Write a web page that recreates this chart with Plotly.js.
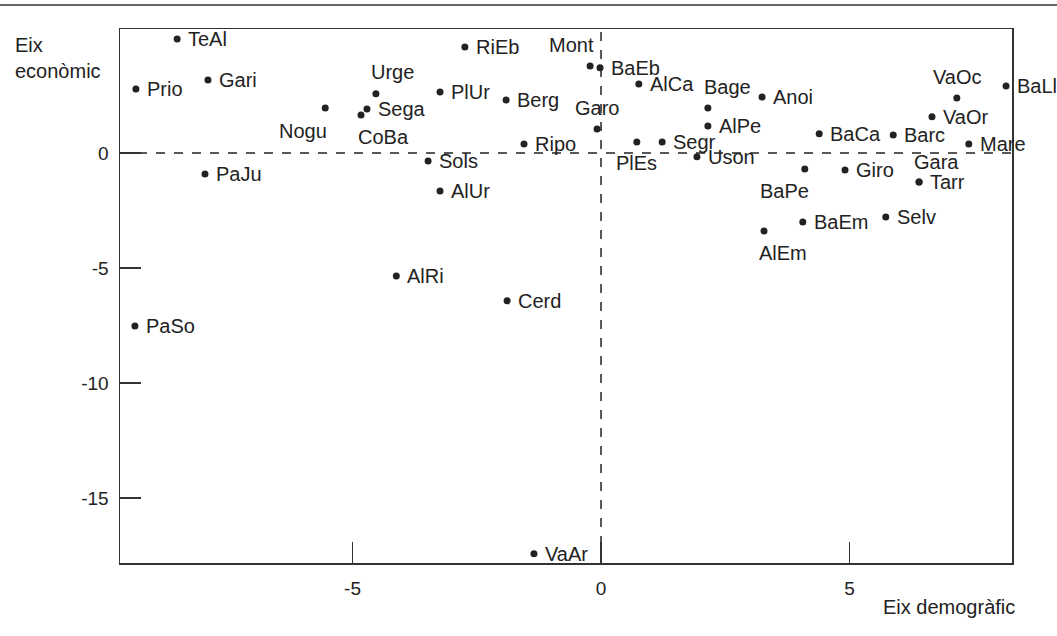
<!DOCTYPE html>
<html>
<head>
<meta charset="utf-8">
<script src="https://cdn.plot.ly/plotly-3.0.1.min.js"></script>
<style>html,body{margin:0;padding:0;background:#fff;}#chart{width:1057px;height:636px;}</style>
</head>
<body>
<div id="chart"></div>
<script>
// Comarques: eix demogràfic (x) i eix econòmic (y)
const names = ["TeAl","Prio","Gari","Nogu","PaJu","Urge","Sega","CoBa","RiEb","PlUr","Berg","Mont","BaEb","AlCa","Garo","Ripo","Sols","AlUr","PlEs","Segr","Uson","Bage","AlPe","Anoi","BaCa","Barc","VaOc","VaOr","BaLl","Mare","BaPe","Giro","Gara","Tarr","AlEm","BaEm","Selv","AlRi","Cerd","PaSo","VaAr"];
const demografic = [-8.53,-9.36,-7.91,-5.55,-7.97,-4.53,-4.71,-4.83,-2.74,-3.24,-1.91,-0.22,-0.02,0.76,-0.08,-1.55,-3.48,-3.24,0.72,1.23,1.93,2.15,2.15,3.24,4.39,5.88,7.16,6.66,8.15,7.40,4.10,4.91,6.40,6.40,3.28,4.06,5.73,-4.12,-1.89,-9.38,-1.35];
const economic = [4.96,2.78,3.17,1.96,-0.91,2.57,1.91,1.65,4.61,2.65,2.30,3.78,3.70,3.00,1.04,0.39,-0.35,-1.65,0.48,0.48,-0.17,1.96,1.17,2.43,0.83,0.78,2.39,1.57,2.91,0.39,-0.70,-0.74,-1.26,-1.26,-3.39,-3.00,-2.78,-5.35,-6.43,-7.52,-17.43];
const yTicks = [0,-5,-10,-15];
const xTicks = [-5,0,5];

// label placement (style only): [xanchor, xshift, yshift]
const labelPlace = {
  Nogu:["right",3,-23], Urge:["left",-6,22], CoBa:["left",-4,-22], Mont:["right",5,21],
  Garo:["center",0,21], PlEs:["center",0,-21], Bage:["left",-5,21], VaOc:["center",1,21],
  BaPe:["right",5,-22], AlEm:["left",-6,-22], Gara:["left",-6,20]
};

const font = {family:"Liberation Sans, Arial, Helvetica, sans-serif", size:20, color:"#222"};
const tickFont = {family:"Liberation Sans, Arial, Helvetica, sans-serif", size:19, color:"#222"};

const trace = {
  type:"scatter", mode:"markers",
  x: demografic, y: economic, text: names,
  cliponaxis:false,
  marker:{size:7, color:"#222"},
  hoverinfo:"text"
};

const labelAnns = names.map((n,i) => {
  const p = labelPlace[n] || ["left",10,0];
  return {text:n, x:demografic[i], y:economic[i], xref:"x", yref:"y",
          xanchor:p[0], yanchor:"middle", xshift:p[1], yshift:p[2],
          showarrow:false, font:font, borderpad:0};
});

const layout = {
  width:1057, height:636,
  margin:{l:120, r:45, t:29, b:73},
  paper_bgcolor:"#fff", plot_bgcolor:"#fff",
  showlegend:false,
  font: font,
  xaxis:{range:[-9.68,8.27], tickvals:xTicks, ticktext:xTicks.map(String),
         ticks:"inside", ticklen:21, tickwidth:1.5, tickcolor:"#333",
         showline:true, mirror:true, linecolor:"#333", linewidth:1.5,
         showgrid:false, zeroline:false, ticklabelstandoff:8, tickfont:tickFont},
  yaxis:{range:[-17.83,5.39], tickvals:yTicks, ticktext:yTicks.map(String),
         ticks:"inside", ticklen:21, tickwidth:1.5, tickcolor:"#333",
         showline:true, mirror:true, linecolor:"#333", linewidth:1.5,
         showgrid:false, zeroline:false, ticklabelstandoff:6, tickfont:tickFont},
  shapes:[
    {type:"line", xref:"paper", yref:"y", x0:0, x1:1, y0:0, y1:0, line:{color:"#222", width:1.5, dash:"dash"}, layer:"below"},
    {type:"line", xref:"x", yref:"paper", x0:0, x1:0, y0:0, y1:1, line:{color:"#222", width:1.5, dash:"dash"}, layer:"below"},
    {type:"line", xref:"paper", yref:"paper", x0:-0.135, x1:1.06, y0:1.045, y1:1.045, line:{color:"#666", width:2}}
  ],
  annotations:[
    {text:"Eix<br>econòmic", xref:"paper", yref:"paper", x:-0.12, y:0.995, xanchor:"left", yanchor:"top", align:"left", showarrow:false, font:font},
    {text:"Eix demogràfic", xref:"paper", yref:"paper", x:1.006, y:-0.083, xanchor:"right", yanchor:"middle", showarrow:false, font:font}
  ].concat(labelAnns)
};

Plotly.newPlot("chart", [trace], layout, {displayModeBar:false, staticPlot:true});
</script>
</body>
</html>
